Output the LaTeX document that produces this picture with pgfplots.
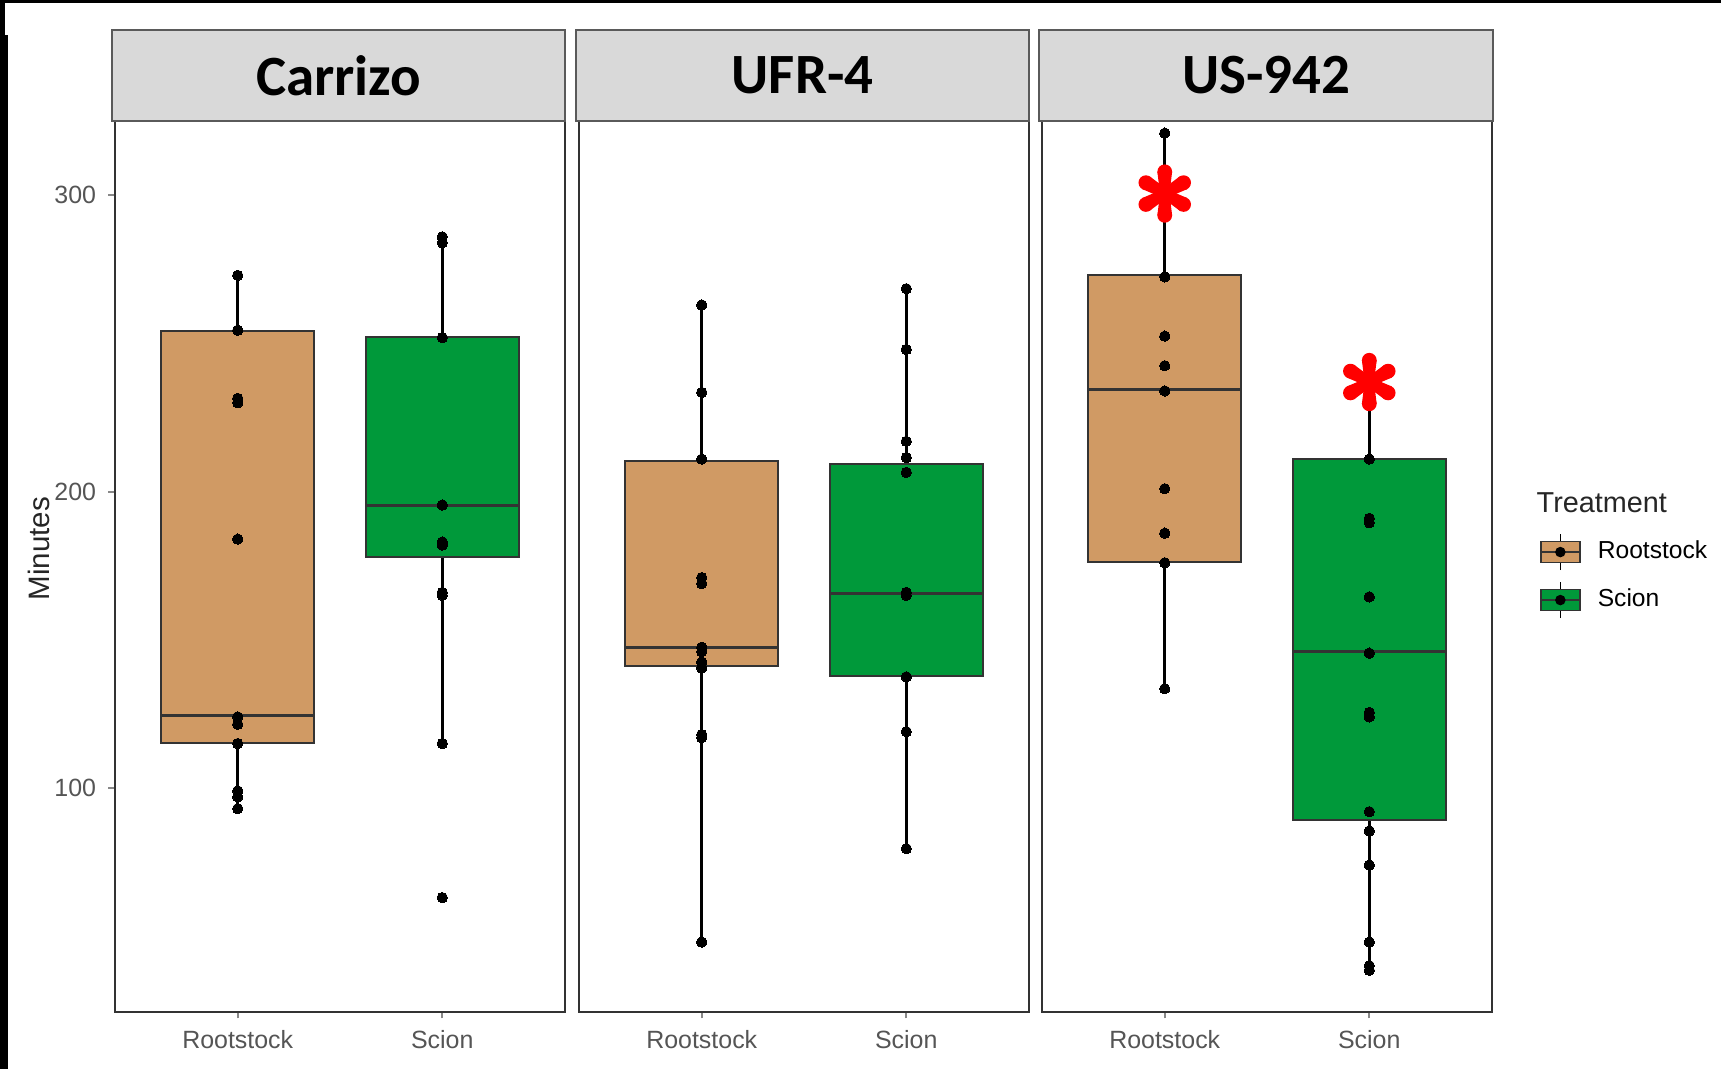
\documentclass[border=0pt]{standalone}
\usepackage{pgfplots}
\pgfplotsset{compat=1.18}
\usepackage{fontspec}
\setmainfont{Liberation Sans}
\newfontfamily\carlito{Carlito}
\definecolor{tanc}{RGB}{208,154,100}
\definecolor{greenc}{RGB}{0,153,58}
\definecolor{stripc}{RGB}{217,217,217}
\definecolor{framec}{RGB}{51,51,51}
\definecolor{tickc}{RGB}{85,85,85}
\definecolor{strokec}{RGB}{90,90,90}

% tapered six-armed asterisk
\pgfdeclareplotmark{redast}{%
  \foreach \a in {90,30,-30,-90,-150,150}{%
    \pgfpathmoveto{\pgfpointpolar{\a+90}{1.35pt}}%
    \pgfpathlineto{\pgfpointadd{\pgfpointpolar{\a}{6.2pt}}{\pgfpointpolar{\a+90}{2.1pt}}}%
    \pgfpathlineto{\pgfpointadd{\pgfpointpolar{\a}{6.2pt}}{\pgfpointpolar{\a-90}{2.1pt}}}%
    \pgfpathlineto{\pgfpointpolar{\a-90}{1.35pt}}%
    \pgfpathclose
    \pgfusepathqfill
    \pgfpathcircle{\pgfpointpolar{\a}{6.2pt}}{2.1pt}%
    \pgfusepathqfill
  }%
  \pgfpathcircle{\pgfpointorigin}{1.8pt}%
  \pgfusepathqfill
}

% box: #1 left, #2 centre, #3 right, #4 lower whisker, #5 lower quartile,
%      #6 median, #7 upper quartile, #8 upper whisker, #9 fill colour
\newcommand{\bxp}[9]{%
  \addplot[black, line width=0.025cm] coordinates {(#2,#4) (#2,#5)};
  \addplot[black, line width=0.025cm] coordinates {(#2,#7) (#2,#8)};
  \addplot[fill=#9, draw=framec, line width=0.02cm] coordinates {(#1,#5) (#3,#5) (#3,#7) (#1,#7)} -- cycle;
  \addplot[framec, line width=0.03cm] coordinates {(#1,#6) (#3,#6)};
}

\pgfplotsset{
  panel/.style={
    scale only axis, width=4.5cm, height=8.91cm,
    xmin=0.4, xmax=2.6, ymin=24.4, ymax=325.1,
    axis line style={draw=framec, line width=0.025cm},
    xtick={1,2}, xticklabels={Rootstock,Scion},
    tick align=outside, tick pos=left,
    major tick length=0.065cm,
    tick style={draw=tickc!70, line width=0.02cm},
    ticklabel style={font=\fontsize{7.1}{8.5}\selectfont, text=tickc},
    /pgf/number format/assume math mode=true,
    clip=false,
    anchor=south west,
  },
  pts/.style={only marks, mark=*, mark size=0.052cm, mark options={fill=black, draw=black, line width=0pt}},
}

\begin{document}
\begin{tikzpicture}
\path[use as bounding box] (0,0) rectangle (17.21,10.69);
\fill[white] (0,0) rectangle (17.21,10.69);

% ---------------- Carrizo ----------------
\begin{axis}[panel, at={(1.15cm,0.57cm)}, ytick={100,200,300},
  ylabel={Minutes},
  ylabel style={at={(axis description cs:-0.17,0.52)}, anchor=center,
    font=\fontsize{8.4}{10}\selectfont, text=black!85}]
\bxp{0.625}{1}{1.375}{93}{115.2}{124.3}{254.2}{273}{tanc}
\bxp{1.625}{2}{2.375}{115}{178.1}{195.2}{252.2}{286}{greenc}
\addplot[pts] coordinates {(1,273) (1,254.5) (1,231.5) (1,230) (1,184) (1,124) (1,121.5) (1,115) (1,99) (1,97) (1,93)};
\addplot[pts] coordinates {(2,286) (2,284) (2,252) (2,195.5) (2,183) (2,182) (2,166) (2,165) (2,115) (2,63)};
\end{axis}

% ---------------- UFR-4 ----------------
\begin{axis}[panel, at={(5.79cm,0.57cm)}, ytick=\empty]
\bxp{0.625}{1}{1.375}{48}{141.1}{147.4}{210.4}{263}{tanc}
\bxp{1.625}{2}{2.375}{79.5}{137.8}{165.6}{209.3}{268.5}{greenc}
\addplot[pts] coordinates {(1,263) (1,233.5) (1,211) (1,171) (1,169) (1,147.5) (1,146) (1,142.5) (1,140.5) (1,118) (1,117) (1,48)};
\addplot[pts] coordinates {(2,268.5) (2,248) (2,217) (2,211.5) (2,206.5) (2,166) (2,165) (2,137.5) (2,119) (2,79.5)};
\end{axis}

% ---------------- US-942 ----------------
\begin{axis}[panel, at={(10.42cm,0.57cm)}, ytick=\empty,
  legend style={at={(axis description cs:1.105,0.538)}, anchor=north west, draw=none, fill=none,
    inner sep=0pt, row sep=0.105cm, column sep=0.1cm, font=\fontsize{7}{8.5}\selectfont},
  legend cell align=left]
\addlegendimage{legend image code/.code={
  \draw[black, line width=0.015cm] (0.195cm,-0.18cm) -- (0.195cm,0.18cm);
  \draw[fill=tanc, draw=framec, line width=0.018cm] (0cm,-0.105cm) rectangle (0.39cm,0.105cm);
  \draw[framec, line width=0.018cm] (0cm,0cm) -- (0.39cm,0cm);
  \fill[black] (0.195cm,0cm) circle (0.045cm);}}
\addlegendentry{Rootstock}
\addlegendimage{legend image code/.code={
  \draw[black, line width=0.015cm] (0.195cm,-0.18cm) -- (0.195cm,0.18cm);
  \draw[fill=greenc, draw=framec, line width=0.018cm] (0cm,-0.105cm) rectangle (0.39cm,0.105cm);
  \draw[framec, line width=0.018cm] (0cm,0cm) -- (0.39cm,0cm);
  \fill[black] (0.195cm,0cm) circle (0.045cm);}}
\addlegendentry{Scion}
\bxp{0.625}{1}{1.375}{133.5}{176.3}{234.4}{273}{321}{tanc}
\bxp{1.625}{2}{2.375}{38.5}{89.3}{145.9}{211.1}{238}{greenc}
\addplot[pts] coordinates {(1,321) (1,272.5) (1,252.5) (1,242.5) (1,234) (1,201) (1,186) (1,176) (1,133.5)};
\addplot[pts] coordinates {(2,238) (2,211) (2,191) (2,189.5) (2,164.5) (2,145.5) (2,125.5) (2,124) (2,92) (2,85.5) (2,74) (2,48) (2,40) (2,38.5)};
\addplot[only marks, mark=redast, mark options={fill=red, draw=none}] coordinates {(1,300.6) (2,237)};
\end{axis}

% strips
\draw[fill=stripc, draw=strokec, line width=0.015cm] (1.12,9.48) rectangle (5.65,10.39);
\draw[fill=stripc, draw=strokec, line width=0.015cm] (5.76,9.48) rectangle (10.29,10.39);
\draw[fill=stripc, draw=strokec, line width=0.015cm] (10.39,9.48) rectangle (14.93,10.39);
\node[font=\carlito\bfseries\fontsize{16.2}{18}\selectfont] at (3.385,9.935) {Carrizo};
\node[font=\carlito\bfseries\fontsize{16.2}{18}\selectfont] at (8.025,9.935) {UFR-4};
\node[font=\carlito\bfseries\fontsize{16.2}{18}\selectfont] at (12.66,9.935) {US-942};

% legend title
\node[anchor=west, inner sep=0pt, font=\fontsize{8.2}{9.5}\selectfont, text=black!85] at (15.36,5.665) {Treatment};

% frame artefacts
\fill[black] (0,0) rectangle (0.08,10.34);
\fill[black] (0,10.34) rectangle (0.05,10.69);
\fill[black] (0,10.66) rectangle (17.21,10.69);
\end{tikzpicture}
\end{document}
